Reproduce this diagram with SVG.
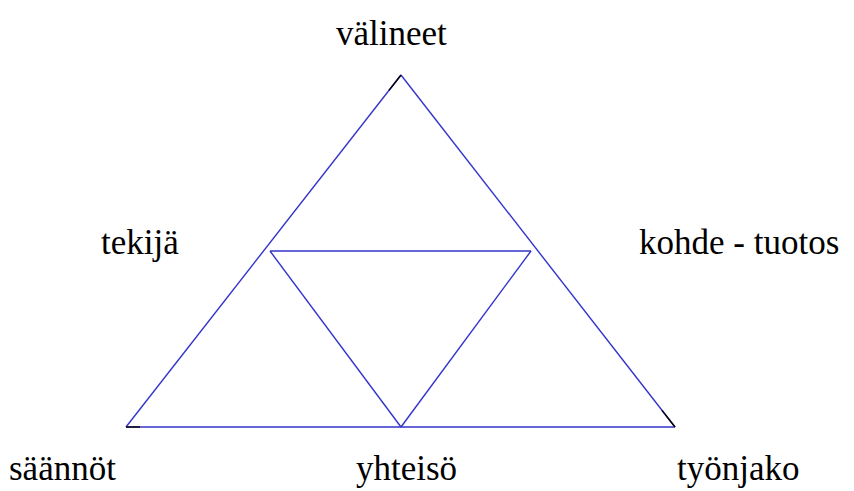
<svg xmlns="http://www.w3.org/2000/svg" width="854" height="491" viewBox="0 0 854 491">
<rect width="854" height="491" fill="#fff"/>
<g id="connectors" fill="none" stroke-width="1.4">
<g stroke="#3333cc">
<line x1="401" y1="75" x2="126" y2="427"/>
<line x1="401" y1="75" x2="675" y2="427"/>
<line x1="126" y1="427" x2="675" y2="427"/>
<line x1="270" y1="251" x2="531" y2="251"/>
<line x1="270" y1="251" x2="401" y2="427"/>
<line x1="531" y1="251" x2="401" y2="427"/>
</g>
<g stroke="#000">
<line x1="389" y1="90.4" x2="401" y2="75"/>
<line x1="126" y1="427" x2="140" y2="427"/>
<line x1="662" y1="410.4" x2="675" y2="427"/>
</g>
</g>
<g id="valineet"><text x="336" y="45" style="font-family:'Liberation Serif';font-size:35px">välineet</text></g>
<g id="tekija"><text x="101" y="254" style="font-family:'Liberation Serif';font-size:35px">tekijä</text></g>
<g id="kohde"><text x="639" y="254" style="font-family:'Liberation Serif';font-size:35px">kohde - tuotos</text></g>
<text id="saannot" x="9" y="480" font-family="Liberation Serif" font-size="35">säännöt</text>
<text id="yhteiso" x="356" y="480" font-family="Liberation Serif" font-size="35">yhteisö</text>
<text id="tyonjako" x="677" y="480" font-family="Liberation Serif" font-size="35">työnjako</text>
</svg>
